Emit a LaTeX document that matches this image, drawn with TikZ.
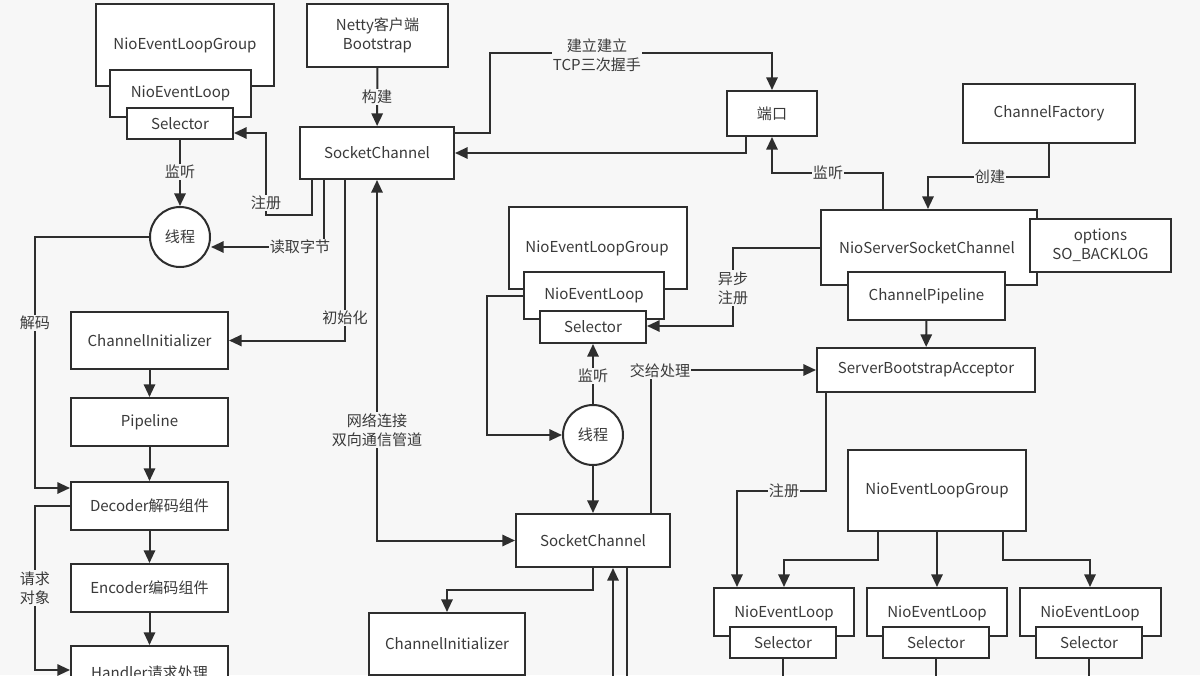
\documentclass[tikz,border=0pt]{standalone}
\usepackage{fontspec}
\setmainfont{Noto Sans CJK SC}
\usetikzlibrary{arrows.meta}
\definecolor{bg}{HTML}{F7F7F7}
\definecolor{ln}{HTML}{2E2E2E}
\definecolor{tx}{HTML}{3A3A3A}
\begin{document}
\begin{tikzpicture}[x=0.75pt,y=-0.75pt,
  every node/.style={font=\fontsize{11.3}{14}\selectfont, text=tx},
  box/.style={draw=ln, line width=1.5pt, fill=white, inner sep=0pt, align=center},
  sz/.style 2 args={minimum width=#1*0.75pt, minimum height=#2*0.75pt},
  lab/.style={fill=bg, inner sep=1pt, align=center},
  ar/.style={draw=ln, line width=1.5pt, -{Triangle[width=8.5pt,length=9.5pt]}},
  ln/.style={draw=ln, line width=1.5pt},
  th/.style={draw=ln, line width=1.5pt, fill=white, circle, minimum size=45pt, inner sep=0pt}]
\useasboundingbox (0,0) rectangle (1200,675);
\clip (0,0) rectangle (1200,675);
\fill[bg] (0,0) rectangle (1200,675);

% ---- top-left group
\node[box,sz={178}{82}] (g1) at (185,45) {};
\node at (185,45) {NioEventLoopGroup};
\node[box,sz={141}{47}] (nel1) at (180.5,93.5) {NioEventLoop};
\node[box,sz={106}{31}] (sel1) at (180,123.5) {Selector};
\node[box,sz={141}{63}] (boot) at (377.5,35.5) {Netty客户端\\Bootstrap};
\node[box,sz={154}{52}] (sc1) at (377,153) {SocketChannel};
\node[box,sz={90}{45}] (port) at (772,113.5) {端口};
\node[box,sz={172}{59}] (cf) at (1049,113.5) {ChannelFactory};
\node[box,sz={216}{75}] (nssc) at (929,247.5) {};
\node at (927,248) {NioServerSocketChannel};
\node[box,sz={141}{53}] (opt) at (1100.5,245.5) {options\\SO\_BACKLOG};
\node[box,sz={157}{48}] (cp) at (926.5,296) {ChannelPipeline};
\node[box,sz={218}{44}] (sba) at (926,370) {ServerBootstrapAcceptor};
\node[th] (t1) at (180,237) {线程};

% left column
\node[box,sz={157}{57}] (ci1) at (149.5,340.5) {ChannelInitializer};
\node[box,sz={157}{48}] (pl) at (149.5,422) {Pipeline};
\node[box,sz={157}{48}] (dec) at (149.5,506) {Decoder解码组件};
\node[box,sz={157}{48}] (enc) at (149.5,588) {Encoder编码组件};
\node[box,sz={157}{54}] (hd) at (149.5,673) {Handler请求处理};

% middle group
\node[box,sz={178}{82}] (g2) at (598,248) {};
\node at (597,248) {NioEventLoopGroup};
\node[box,sz={140}{47}] (nel2) at (594,295.5) {NioEventLoop};
\node[box,sz={106}{32}] (sel2) at (593,327) {Selector};
\node[th] (t2) at (593,435) {线程};
\node[box,sz={154}{53}] (sc2) at (593,540.5) {SocketChannel};
\node[box,sz={156}{62}] (ci2) at (447,644) {ChannelInitializer};

% bottom-right group
\node[box,sz={178}{81}] (g3) at (937,490.5) {NioEventLoopGroup};
\node[box,sz={140}{48}] (nel3a) at (784,612) {};
\node at (784,613) {NioEventLoop};
\node[box,sz={106}{31}] (sel3a) at (783,642.5) {Selector};
\node[box,sz={140}{48}] (nel3b) at (937,612) {};
\node at (937,613) {NioEventLoop};
\node[box,sz={106}{31}] (sel3b) at (936,642.5) {Selector};
\node[box,sz={141}{48}] (nel3c) at (1090.5,612) {};
\node at (1090,613) {NioEventLoop};
\node[box,sz={106}{31}] (sel3c) at (1089,642.5) {Selector};
\coordinate (ea) at (783,680);
\coordinate (eb) at (936,680);
\coordinate (ec) at (1089,680);
\coordinate (e1) at (613,680);
\coordinate (e2) at (627,680);

% ---- connectors
\draw[ar] (boot) -- (sc1);
\draw[ar] (sc1.east |- 0,133) -| (490,53) -| (port.north);
\draw[ar] (port.south -| 746,0) |- (sc1.east |- 0,153);
\draw[ar] (sc1.south -| 312,0) |- (266,215) |- (sel1.east |- 0,133);
\draw[ar] (sc1.south -| 324,0) |- (t1.east |- 0,247);
\draw[ar] (sc1.south -| 345,0) |- (ci1.east);
\draw[ar] (sel1) -- (t1);
\draw[ar] (t1.west) -| (35,488) -- (dec.west |- 0,488);
\draw[ar] (ci1) -- (pl);
\draw[ar] (pl) -- (dec);
\draw[ar] (dec) -- (enc);
\draw[ar] (enc) -- (hd);
\draw[ar] (dec.west |- 0,506) -| (35,670) -- (hd.west |- 0,670);
\draw[ar,{Triangle[width=8.5pt,length=9.5pt]}-{Triangle[width=8.5pt,length=9.5pt]}] (sc1.south) |- (sc2.west);
\draw[ar] (nssc.north -| 883,0) |- (772,173) -- (port.south);
\draw[ar] (cf.south) |- (928,177) -- (nssc.north -| 928,0);
\draw[ar] (nssc.west) -| (733,326) -- (sel2.east |- 0,326);
\draw[ar] (cp) -- (sba);
\draw[ar] (nel2.west |- 0,296) -| (487,435) -- (t2.west);
\draw[ar] (t2) -- (sel2);
\draw[ar] (t2) -- (sc2);
\draw[ar] (sc2.north -| 651,0) |- (sba.west);
\draw[ar] (sba.south -| 826,0) |- (737,491) -- (nel3a.north -| 737,0);
\draw[ar] (g3.south -| 878,0) |- (784,560) -- (nel3a.north -| 784,0);
\draw[ar] (g3) -- (nel3b);
\draw[ar] (g3.south -| 1003,0) |- (1090,560) -- (nel3c.north -| 1090,0);
\draw[ar] (sc2.south) |- (447,590) -- (ci2.north);
\draw[ar] (e1) -- (sc2.south -| e1);
\draw[ln] (sc2.south -| e2) -- (e2);
\draw[ln] (sel3a) -- (ea);
\draw[ln] (sel3b) -- (eb);
\draw[ln] (sel3c) -- (ec);

% ---- labels
\node[lab] (lgj) at (377,97) {构建};
\node[lab] (ltcp) at (597,55) {建立建立\\TCP三次握手};
\node[lab] (lzc1) at (266,203) {注册};
\node[lab] (ldq) at (300,247) {读取字节};
\node[lab] (lcsh) at (345,318) {初始化};
\node[lab] (ljt1) at (180,172) {监听};
\node[lab] (ljm) at (35,323) {解码};
\node[lab] (lqq) at (35,588) {请求\\对象};
\node[lab] (lwl) at (377,430) {网络连接\\双向通信管道};
\node[lab] (ljt2) at (828,173) {监听};
\node[lab] (lcj) at (990,177) {创建};
\node[lab] (lyb) at (733,288) {异步\\注册};
\node[lab] (ljt3) at (593,376) {监听};
\node[lab] (ljg) at (660,371) {交给处理};
\node[lab] (lzc2) at (784,491) {注册};
\end{tikzpicture}
\end{document}
